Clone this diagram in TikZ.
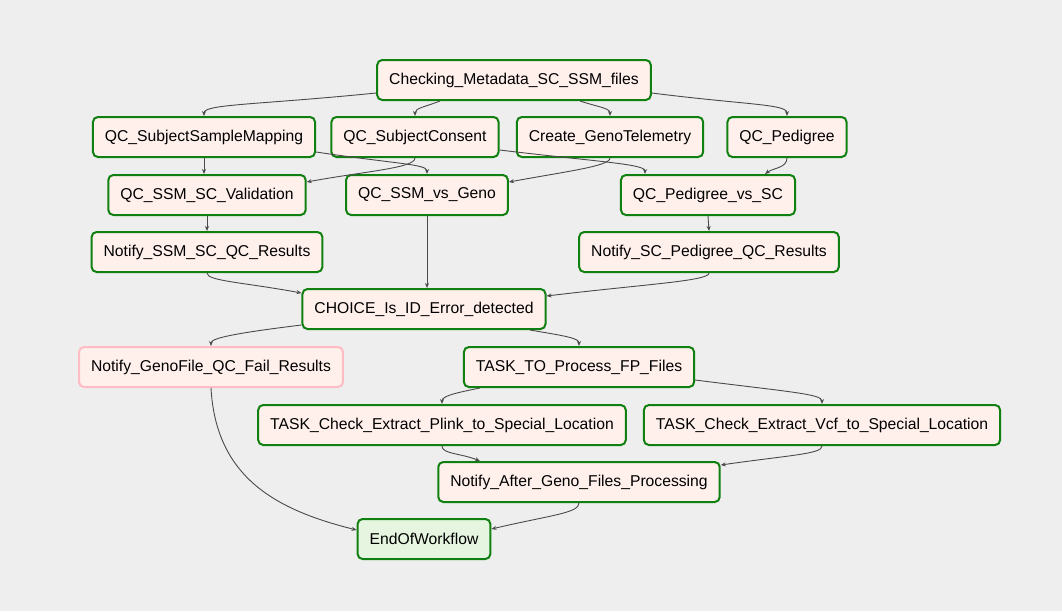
\documentclass[tikz,border=0pt]{standalone}
\usepackage{fontspec}
\setmainfont{Liberation Sans}
\usetikzlibrary{arrows.meta}
\definecolor{bg}{HTML}{EEEEEE}
\definecolor{boxfill}{HTML}{FFF0EC}
\definecolor{endfill}{HTML}{E6F5E0}
\definecolor{okline}{HTML}{108010}
\definecolor{failline}{HTML}{FFBCC4}
\definecolor{edgecol}{HTML}{4A4A4A}
\begin{document}
\begin{tikzpicture}[x=1pt,y=1pt,
    state/.style={draw=okline,line width=2pt,fill=boxfill,rounded corners=5pt,
      minimum height=40pt,inner xsep=12pt,font=\fontsize{15.7}{19}\selectfont},
    failstate/.style={state,draw=failline},
    endstate/.style={state,fill=endfill},
    edge/.style={draw=edgecol,line width=0.9pt,-{Stealth[length=5pt,width=4pt]}}]
        \fill[bg] (0,0) rectangle (1062,-611);
        \node[state] (chk) at (514,-80) {Checking\_Metadata\_SC\_SSM\_files};
        \node[state] (ssm) at (204,-137) {QC\_SubjectSampleMapping};
        \node[state] (sc) at (415,-137) {QC\_SubjectConsent};
        \node[state] (geno) at (610,-137) {Create\_GenoTelemetry};
        \node[state] (ped) at (787,-137) {QC\_Pedigree};
        \node[state] (ssmsc) at (207,-195) {QC\_SSM\_SC\_Validation};
        \node[state] (ssmgeno) at (427,-195) {QC\_SSM\_vs\_Geno};
        \node[state] (pedsc) at (708,-195) {QC\_Pedigree\_vs\_SC};
        \node[state] (nssmsc) at (207,-252) {Notify\_SSM\_SC\_QC\_Results};
        \node[state] (nscped) at (709,-252) {Notify\_SC\_Pedigree\_QC\_Results};
        \node[state] (choice) at (424,-309) {CHOICE\_Is\_ID\_Error\_detected};
        \node[failstate] (nfail) at (211,-367) {Notify\_GenoFile\_QC\_Fail\_Results};
        \node[state] (taskfp) at (579,-367) {TASK\_TO\_Process\_FP\_Files};
        \node[state] (plink) at (442,-425) {TASK\_Check\_Extract\_Plink\_to\_Special\_Location};
        \node[state] (vcf) at (822,-425) {TASK\_Check\_Extract\_Vcf\_to\_Special\_Location};
        \node[state] (nafter) at (579,-482) {Notify\_After\_Geno\_Files\_Processing};
        \node[endstate] (eow) at (424,-539) {EndOfWorkflow};

        \draw[edge] ([yshift=-13]chk.west) .. controls +(-120,-12) and +(0,12) .. (ssm.north);
        \draw[edge] ([xshift=-74]chk.south) .. controls +(-15,-6) and +(0,8) .. (sc.north);
        \draw[edge] ([xshift=66]chk.south) .. controls +(18,-6) and +(0,8) .. (geno.north);
        \draw[edge] ([yshift=-13]chk.east) .. controls +(95,-12) and +(0,12) .. (ped.north);
        \draw[edge] (ssm.south) -- ([xshift=-3]ssmsc.north);
        \draw[edge] ([yshift=-15]ssm.east) .. controls +(80,-12) and +(0,10) .. (ssmgeno.north);
        \draw[edge] (sc.south) .. controls +(0,-10) and +(60,11) .. ([yshift=13]ssmsc.east);
        \draw[edge] ([yshift=-13]sc.east) .. controls +(100,-12) and +(0,10) .. ([xshift=-63]pedsc.north);
        \draw[edge] (geno.south) .. controls +(0,-8) and +(60,11) .. ([yshift=13]ssmgeno.east);
        \draw[edge] (ped.south) .. controls +(0,-10) and +(8,6) .. ([xshift=57]pedsc.north);
        \draw[edge] (ssmsc.south) -- (nssmsc.north);
        \draw[edge] (pedsc.south) -- (nscped.north);
        \draw[edge] (nssmsc.south) .. controls +(0,-8) and +(-60,11) .. ([yshift=16]choice.west);
        \draw[edge] (ssmgeno.south) -- ([xshift=3]choice.north);
        \draw[edge] (nscped.south) .. controls +(0,-8) and +(100,12) .. ([yshift=13]choice.east);
        \draw[edge] ([yshift=-16]choice.west) .. controls +(-65,-8) and +(0,8) .. (nfail.north);
        \draw[edge] ([xshift=106]choice.south) .. controls +(35,-6) and +(0,8) .. (taskfp.north);
        \draw[edge] ([xshift=-99]taskfp.south) .. controls +(-25,-5) and +(0,8) .. (plink.north);
        \draw[edge] ([yshift=-13]taskfp.east) .. controls +(95,-12) and +(0,10) .. (vcf.north);
        \draw[edge] (plink.south) .. controls +(0,-8) and +(-20,8) .. ([xshift=-99]nafter.north);
        \draw[edge] (vcf.south) .. controls +(0,-8) and +(70,10) .. ([yshift=17]nafter.east);
        \draw[edge] (nfail.south) .. controls +(5,-90) and +(-80,20) .. ([yshift=9]eow.west);
        \draw[edge] (nafter.south) .. controls +(0,-10) and +(60,14) .. ([yshift=10]eow.east);
\end{tikzpicture}
\end{document}
